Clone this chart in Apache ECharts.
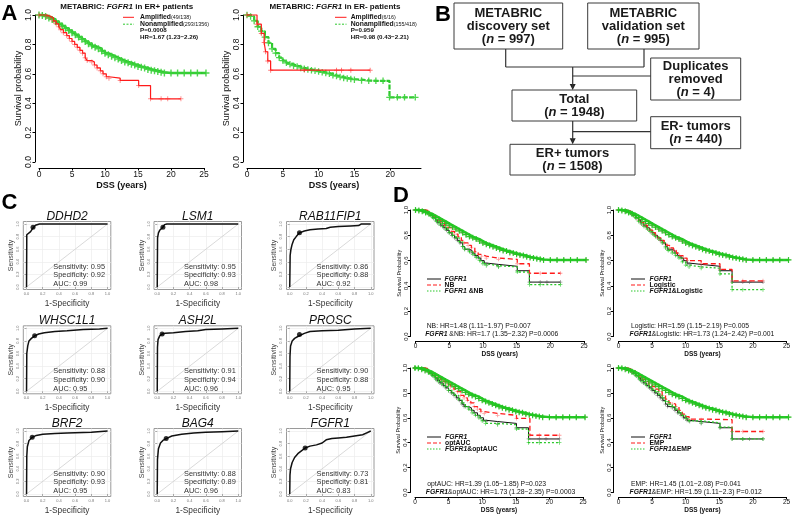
<!DOCTYPE html>
<html><head><meta charset="utf-8">
<script src="https://cdn.jsdelivr.net/npm/echarts@6/dist/echarts.min.js"></script>
<style>html,body{margin:0;padding:0;background:#fff}#c{width:797px;height:516px}</style>
</head><body><div id="c"></div>
<script>
// ================= DATA =================
// Panel A: Kaplan-Meier, [DSS years, survival]
const A1_amp = [[0,1],[1.2,0.99],[1.8,0.98],[2.2,0.96],[2.6,0.94],[3.0,0.92],[3.3,0.90],[3.7,0.88],[4.2,0.86],[4.6,0.84],[5.0,0.82],[5.4,0.80],[5.8,0.78],[6.2,0.76],[6.6,0.74],[7.0,0.71],[7.3,0.69],[8.0,0.68],[8.4,0.66],[8.8,0.64],[9.3,0.62],[9.7,0.60],[10.2,0.58],[10.6,0.57],[12.3,0.555],[15.1,0.52],[16.9,0.43],[18.5,0.43],[19.5,0.43],[21.5,0.43]];
const A1_non = [[0,1],[0.5,0.997],[1,0.99],[1.5,0.98],[2,0.97],[2.5,0.955],[3,0.94],[3.5,0.925],[4,0.91],[4.5,0.895],[5,0.88],[5.5,0.865],[6,0.85],[6.5,0.835],[7,0.82],[7.5,0.805],[8,0.79],[8.5,0.78],[9,0.77],[9.5,0.755],[10,0.74],[10.5,0.73],[11,0.72],[11.5,0.71],[12,0.70],[12.5,0.69],[13,0.68],[13.5,0.675],[14,0.665],[14.5,0.66],[15,0.65],[15.5,0.645],[16,0.64],[16.5,0.63],[17,0.625],[17.5,0.62],[18,0.615],[18.5,0.61],[19,0.605],[20,0.605],[21,0.605],[22,0.605],[23,0.605],[24,0.605],[25.3,0.605]];
const A2_amp = [[0,1],[1.4,0.9375],[2.0,0.875],[2.4,0.8125],[2.6,0.75],[2.9,0.6875],[3.3,0.625],[8,0.625],[12.5,0.625],[13.2,0.625],[14.5,0.625],[17.2,0.625]];
const A2_non = [[0,1],[0.5,0.99],[1.0,0.96],[1.5,0.92],[2.0,0.89],[2.5,0.85],[3.0,0.81],[3.5,0.77],[4.0,0.74],[4.5,0.71],[5,0.69],[5.5,0.675],[6,0.665],[6.5,0.655],[7,0.65],[7.5,0.64],[8,0.635],[8.5,0.63],[9,0.625],[9.5,0.62],[10,0.615],[10.5,0.61],[11,0.605],[11.5,0.6],[12,0.59],[12.5,0.585],[13,0.578],[13.5,0.572],[14,0.568],[14.5,0.564],[15,0.56],[16,0.555],[17,0.552],[18,0.552],[19,0.552],[19.9,0.44],[21,0.44],[22,0.44],[23.5,0.44]];
const A_xTicks = [0,5,10,15,20,25];
const A2_xTicks = [0,5,10,15,20];

// Panel C: ROC curves [1-specificity, sensitivity]
const rocGenes = ['DDHD2','LSM1','RAB11FIP1','WHSC1L1','ASH2L','PROSC','BRF2','BAG4','FGFR1'];
const rocSens = [0.95,0.95,0.86,0.88,0.91,0.90,0.90,0.88,0.73];
const rocSpec = [0.92,0.93,0.88,0.90,0.94,0.88,0.93,0.89,0.81];
const rocAUC  = [0.99,0.98,0.92,0.95,0.96,0.95,0.95,0.96,0.83];
const roc_DDHD2 = [[0,0],[0.003,0.83],[0.02,0.86],[0.05,0.88],[0.07,0.92],[0.08,0.95],[0.11,0.98],[0.16,1.0],[1,1]];
const roc_LSM1 = [[0,0],[0.004,0.78],[0.015,0.86],[0.03,0.9],[0.05,0.93],[0.07,0.95],[0.09,0.99],[0.12,1.0],[1,1]];
const roc_RAB11FIP1 = [[0,0],[0.005,0.5],[0.015,0.6],[0.03,0.68],[0.05,0.75],[0.08,0.8],[0.12,0.86],[0.18,0.89],[0.25,0.91],[0.35,0.92],[0.45,0.93],[0.5,0.95],[0.6,0.96],[0.75,0.97],[0.85,0.975],[0.88,1.0],[1,1]];
const roc_WHSC1L1 = [[0,0],[0.003,0.6],[0.015,0.72],[0.03,0.8],[0.06,0.84],[0.1,0.88],[0.15,0.91],[0.22,0.93],[0.35,0.95],[0.5,0.96],[0.7,0.98],[0.9,0.99],[1,1]];
const roc_ASH2L = [[0,0],[0.003,0.7],[0.01,0.82],[0.03,0.88],[0.06,0.91],[0.1,0.92],[0.2,0.93],[0.35,0.95],[0.5,0.96],[0.6,0.98],[0.8,0.99],[1,1]];
const roc_PROSC = [[0,0],[0.003,0.55],[0.01,0.72],[0.03,0.8],[0.06,0.84],[0.1,0.87],[0.12,0.9],[0.18,0.92],[0.25,0.95],[0.4,0.96],[0.6,0.97],[0.8,0.99],[1,1]];
const roc_BRF2 = [[0,0],[0.003,0.6],[0.01,0.75],[0.03,0.85],[0.05,0.88],[0.07,0.9],[0.12,0.93],[0.2,0.95],[0.35,0.96],[0.5,0.97],[0.8,0.98],[1,1]];
const roc_BAG4 = [[0,0],[0.003,0.55],[0.015,0.72],[0.04,0.81],[0.07,0.85],[0.11,0.88],[0.18,0.92],[0.3,0.95],[0.45,0.97],[0.6,0.98],[0.8,0.99],[1,1]];
const roc_FGFR1 = [[0,0],[0.003,0.3],[0.01,0.4],[0.03,0.5],[0.06,0.58],[0.1,0.64],[0.14,0.68],[0.19,0.73],[0.25,0.76],[0.33,0.78],[0.4,0.81],[0.45,0.86],[0.52,0.88],[0.6,0.89],[0.7,0.9],[0.8,0.92],[0.9,0.94],[0.95,0.97],[1,1]];
const rocCurves = [roc_DDHD2, roc_LSM1, roc_RAB11FIP1, roc_WHSC1L1, roc_ASH2L, roc_PROSC, roc_BRF2, roc_BAG4, roc_FGFR1];
const rocTicks = [0,0.2,0.4,0.6,0.8,1.0];
const rocDiagonal = [[0,0],[1,1]];

// Panel D: KM curves in ER+ cohort
const D_high = A1_non;          // low-risk groups (all methods overlap)
const D_fgfr1_lo = A1_amp;      // FGFR1 high-risk group
const D_nb_lo = [[0,1],[1.5,0.99],[2.2,0.97],[2.8,0.95],[3.3,0.92],[3.8,0.9],[4.3,0.88],[4.8,0.86],[5.3,0.83],[5.8,0.81],[6.3,0.79],[6.8,0.76],[7.2,0.74],[7.8,0.72],[8.3,0.70],[8.8,0.67],[9.3,0.65],[9.8,0.635],[10.5,0.62],[12.3,0.61],[15.1,0.575],[16.9,0.50],[18.5,0.50],[21.5,0.50]];
const D_nbC_lo = [[0,1],[1.2,0.99],[1.8,0.975],[2.3,0.955],[2.7,0.935],[3.1,0.91],[3.5,0.89],[4,0.87],[4.5,0.85],[5,0.82],[5.5,0.80],[6,0.78],[6.5,0.75],[7,0.71],[7.3,0.69],[8,0.67],[8.5,0.65],[9,0.625],[9.5,0.6],[10,0.575],[10.5,0.56],[12.3,0.55],[15.1,0.51],[16.9,0.41],[18.5,0.41],[21.5,0.41]];
const D_log_lo = [[0,1],[1.2,0.99],[1.8,0.98],[2.2,0.96],[2.6,0.94],[3.0,0.92],[3.4,0.9],[3.8,0.88],[4.3,0.86],[4.7,0.84],[5.1,0.82],[5.5,0.8],[5.9,0.78],[6.3,0.76],[6.8,0.74],[7.2,0.72],[7.6,0.70],[8.2,0.68],[8.6,0.66],[9.1,0.64],[9.6,0.62],[10.2,0.6],[12.3,0.575],[15.1,0.53],[16.9,0.44],[18.5,0.44],[21.5,0.44]];
const D_logC_lo = [[0,1],[1.2,0.99],[1.8,0.975],[2.2,0.955],[2.6,0.935],[3.0,0.91],[3.4,0.89],[3.8,0.87],[4.3,0.85],[4.7,0.83],[5.1,0.81],[5.5,0.79],[6,0.77],[6.5,0.74],[7,0.70],[7.4,0.68],[8,0.66],[8.5,0.64],[9,0.62],[9.5,0.59],[10,0.565],[10.5,0.55],[12.3,0.54],[15.1,0.495],[16.9,0.37],[18.5,0.37],[21.5,0.37]];
const D_auc_lo = [[0,1],[1.5,0.99],[2.2,0.97],[2.8,0.95],[3.3,0.93],[3.8,0.91],[4.3,0.89],[4.8,0.87],[5.3,0.85],[5.8,0.83],[6.3,0.81],[6.8,0.78],[7.3,0.76],[7.8,0.74],[8.3,0.72],[8.8,0.69],[9.3,0.67],[9.8,0.65],[10.3,0.635],[12.3,0.62],[15.1,0.595],[17.1,0.46],[18.5,0.46],[21.5,0.46]];
const D_aucC_lo = [[0,1],[1.2,0.99],[1.8,0.975],[2.3,0.955],[2.7,0.935],[3.1,0.91],[3.5,0.89],[4,0.87],[4.5,0.85],[5,0.82],[5.5,0.8],[6,0.78],[6.5,0.75],[7,0.72],[7.5,0.69],[8,0.67],[8.5,0.64],[9,0.62],[9.5,0.6],[10,0.575],[10.5,0.555],[12.3,0.545],[15.1,0.51],[16.9,0.40],[18.5,0.40],[21.5,0.40]];
const D_emp_lo = [[0,1],[1.3,0.99],[2,0.975],[2.5,0.955],[3,0.935],[3.5,0.91],[4,0.89],[4.5,0.87],[5,0.85],[5.5,0.83],[6,0.81],[6.5,0.78],[7,0.75],[7.5,0.72],[8,0.71],[8.5,0.69],[9,0.66],[9.5,0.63],[10,0.61],[10.5,0.59],[12.3,0.585],[16.9,0.49],[18.5,0.49],[21.5,0.49]];
const D_empC_lo = [[0,1],[1.2,0.99],[1.8,0.975],[2.3,0.955],[2.7,0.935],[3.1,0.91],[3.5,0.89],[4,0.87],[4.5,0.85],[5,0.83],[5.5,0.81],[6,0.79],[6.5,0.76],[7,0.73],[7.5,0.71],[8,0.69],[8.5,0.67],[9,0.64],[9.5,0.62],[10,0.595],[10.5,0.575],[12.3,0.56],[15.1,0.525],[16.9,0.43],[18.5,0.43],[21.5,0.43]];
const D_methods = ['NB','Logistic','optAUC','EMP'];
const D_method_lo = [D_nb_lo, D_log_lo, D_auc_lo, D_emp_lo];
const D_combo_lo = [D_nbC_lo, D_logC_lo, D_aucC_lo, D_empC_lo];
const D_stats1 = ['NB: HR=1.48 (1.11\u22121.97) P=0.007','Logistic: HR=1.59 (1.15\u22122.19) P=0.005','optAUC: HR=1.39 (1.05\u22121.85) P=0.023','EMP: HR=1.45 (1.01\u22122.08) P=0.041'];
const D_stats2 = [' &NB: HR=1.7 (1.35\u22122.32) P=0.0006','&Logistic: HR=1.73 (1.24\u22122.42) P=0.001','&optAUC: HR=1.73 (1.28\u22122.35) P=0.0003','&EMP: HR=1.59 (1.11\u22122.3) P=0.012'];
const D_legend3 = [' &NB','&Logistic','&optAUC','&EMP'];
const surv_yTicks = [0,0.2,0.4,0.6,0.8,1.0];

// ================= BUILD =================
const FONT = '"Liberation Sans", Arial, Helvetica, sans-serif';
const RED = '#ff1a1a', GREEN = '#2cc82c';
const PLUS = 'path://M4,0H6V4H10V6H6V10H4V6H0V4H4Z';
const grids = [], xAxes = [], yAxes = [], series = [], G = [];

function rt(size, w, s, c) { return {fontSize:size, fontFamily:FONT, fontWeight:w||'normal', fontStyle:s||'normal', fill:c||'#111'}; }
function txt(x, y, text, size, o) {
  o = o || {};
  const st = {text:text, fontSize:size, fontFamily:FONT, fontWeight:o.w||'normal', fontStyle:o.s||'normal',
    fill:o.c||'#111', align:o.a||'left', verticalAlign:o.v||'middle', textAlign:o.a||'left', textVerticalAlign:o.v||'middle'};
  if (o.lh) st.lineHeight = o.lh;
  if (o.rich) st.rich = o.rich;
  return {type:'text', x:x, y:y, silent:true, z:100, style:st};
}
function seg(x1,y1,x2,y2,color,w,dash) {
  const st = {stroke:color, lineWidth:w};
  if (dash) st.lineDash = dash;
  return {type:'line', silent:true, z:100, shape:{x1:x1,y1:y1,x2:x2,y2:y2}, style:st};
}

function kmGrid(left, top, width, height, xmax, xt, o) {
  grids.push({left:left, top:top, width:width, height:height, outerBoundsMode:'none', containLabel:false});
  const gi = grids.length - 1;
  xAxes.push({gridIndex:gi, type:'value', min:0, max:xmax, offset:o.xoff,
    axisLine:{show:true, onZero:false, lineStyle:{color:'#000', width:1}},
    axisTick:{show:true, length:2.5, customValues:xt, lineStyle:{color:'#000', width:1}},
    axisLabel:{customValues:xt, fontSize:o.xfs, color:'#111', margin:o.xm, fontFamily:FONT},
    splitLine:{show:false}, name:'DSS (years)', nameLocation:'middle', nameGap:o.xng,
    nameTextStyle:{fontSize:o.xnfs, fontWeight:'bold', fontFamily:FONT, color:'#111'}});
  yAxes.push({gridIndex:gi, type:'value', min:0, max:1, interval:0.2, offset:o.yoff,
    axisLine:{show:true, onZero:false, lineStyle:{color:'#000', width:1}},
    axisTick:{show:true, length:2.5, lineStyle:{color:'#000', width:1}},
    axisLabel:{rotate:90, fontSize:o.yfs, color:'#111', margin:o.ym, fontFamily:FONT, formatter:function(v){return v.toFixed(1);}},
    splitLine:{show:false}, name:o.yname, nameLocation:'middle', nameGap:o.yng,
    nameTextStyle:{fontSize:o.ynfs, fontFamily:FONT, color:'#111'}});
  return gi;
}
function km(gi, data, color, width, dash, symColor, symSize, z) {
  series.push({type:'line', xAxisIndex:gi, yAxisIndex:gi, data:data, step:'end',
    showSymbol:symSize>0, symbol:symSize>0?PLUS:'none', symbolSize:symSize,
    lineStyle:{color:color, width:width, type:dash}, itemStyle:{color:symColor},
    clip:false, silent:true, animation:false, z:z});
}

// ---- Panel A ----
const aOpt = {xoff:6, xfs:8.5, xm:2, xng:13, xnfs:9, yoff:4, yfs:8.5, ym:2, yname:'Survival probability', yng:8, ynfs:9};
const gA1 = kmGrid(39, 15, 165, 147, 25, A_xTicks, aOpt);
const gA2 = kmGrid(247, 15, 174, 147, 24.3, A2_xTicks, aOpt);
km(gA1, A1_non, GREEN, 2.6, 'solid', 'rgba(60,210,60,0.9)', 7, 3);
km(gA1, A1_amp, RED, 1.2, 'solid', 'rgba(255,40,40,0.5)', 5, 4);
km(gA2, A2_non, GREEN, 2.2, [5,1.5], 'rgba(60,210,60,0.9)', 6.5, 3);
km(gA2, A2_amp, RED, 1.2, 'solid', 'rgba(255,40,40,0.6)', 5, 4);

G.push(txt(126.7, 7, '{b|METABRIC: }{i|FGFR1}{b| in ER+ patients}', 8, {a:'center', rich:{b:rt(8,'bold'), i:rt(8,'bold','italic')}}));
G.push(txt(335, 7, '{b|METABRIC: }{i|FGFR1}{b| in ER- patients}', 8, {a:'center', rich:{b:rt(8,'bold'), i:rt(8,'bold','italic')}}));
const legA = [[123,134,140,'49/138','293/1356','P=0.0008','HR=1.67 (1.23\u22122.26)'],[335,346.5,350.7,'6/16','155/418','P=0.959','HR=0.98 (0.43\u22122.21)']];
legA.forEach(function(L){
  G.push(seg(L[0],17.3,L[1],17.3,RED,1));
  G.push(seg(L[0],24.2,L[1],24.2,GREEN,1,[2,1.5]));
  G.push(txt(L[2],17.3,'{b|Amplified}{s|('+L[3]+')}',7,{rich:{b:rt(6.8,'bold'),s:rt(5.4)}}));
  G.push(txt(L[2],24.2,'{b|Nonamplified}{s|('+L[4]+')}',7,{rich:{b:rt(6.8,'bold'),s:rt(5.4)}}));
  G.push(txt(L[2],30.2,L[5],6.2,{w:'bold'}));
  G.push(txt(L[2],37.3,L[6],6.2,{w:'bold'}));
});

// ---- Panel C (ROC) ----
const cLeft = [23.3, 154, 286.5], cTop = [221.5, 325.8, 428.5], cW = 87.5, cH = 68;
rocGenes.forEach(function(gene, k){
  const r = Math.floor(k/3), c = k%3;
  grids.push({left:cLeft[c], top:cTop[r], width:cW, height:cH, show:true, borderColor:'#9a9a9a', borderWidth:1, outerBoundsMode:'none', containLabel:false});
  const gi = grids.length - 1;
  const common = {gridIndex:gi, type:'value', min:-0.04, max:1.04,
    axisLine:{show:false}, axisTick:{show:true, customValues:rocTicks, length:2, lineStyle:{color:'#777', width:0.6}},
    splitLine:{show:true, lineStyle:{color:'#ececec', width:0.7}}};
  xAxes.push(Object.assign({}, common, {axisLabel:{customValues:rocTicks, fontSize:4, color:'#777', margin:2.5, fontFamily:FONT, formatter:function(v){return v.toFixed(1);}},
    name:'1-Specificity', nameLocation:'middle', nameGap:10, nameTextStyle:{fontSize:8.3, color:'#333', fontFamily:FONT}}));
  yAxes.push(Object.assign({}, common, {axisLabel:{customValues:rocTicks, rotate:90, fontSize:4, color:'#777', margin:3.5, fontFamily:FONT, formatter:function(v){return v.toFixed(1);}},
    name:'Sensitivity', nameLocation:'middle', nameGap:8.5, nameTextStyle:{fontSize:7, color:'#444', fontFamily:FONT}}));
  series.push({type:'line', xAxisIndex:gi, yAxisIndex:gi, data:rocDiagonal, symbol:'none', lineStyle:{color:'#cfcfcf', width:0.8}, silent:true, animation:false, z:2});
  series.push({type:'line', xAxisIndex:gi, yAxisIndex:gi, data:rocCurves[k], symbol:'none', lineStyle:{color:'#111', width:1.5}, silent:true, animation:false, z:3});
  series.push({type:'scatter', xAxisIndex:gi, yAxisIndex:gi, data:[[1-rocSpec[k], rocSens[k]]], symbolSize:5, itemStyle:{color:'#000'}, silent:true, animation:false, z:4});
  const dataL = cLeft[c] + cW*0.04/1.08, dataW = cW/1.08;
  const y0 = cTop[r] + cH - cH*0.04/1.08;
  G.push(txt(cLeft[c]+cW/2, cTop[r]-5, gene, 12, {a:'center', s:'italic'}));
  const tx = dataL + dataW*0.33;
  G.push(txt(tx, y0-20.5, 'Sensitivity: '+rocSens[k].toFixed(2), 7.4, {c:'#333'}));
  G.push(txt(tx, y0-11.6, 'Specificity: '+rocSpec[k].toFixed(2), 7.4, {c:'#333'}));
  G.push(txt(tx, y0-2.8, 'AUC: '+rocAUC[k].toFixed(2), 7.4, {c:'#333'}));
});

// ---- Panel D ----
const dOpt = {xoff:4.5, xfs:6.5, xm:1.5, xng:9.5, xnfs:6.5, yoff:5, yfs:6, ym:1.5, yname:'Survival Probability', yng:7.5, ynfs:5.5};
const dPos = [[415.5,210,168.5,126.5],[618.5,210,168,126.5],[415,368,168,124.5],[618.5,368,168,124.5]];
const dLeg = [[427,441,444.5,426.7],[631,645,649.5,631],[427,441,445,427.3],[631,645,649.5,631]];
D_methods.forEach(function(m, k){
  const p = dPos[k];
  const gi = kmGrid(p[0], p[1], p[2], p[3], 25, A_xTicks, dOpt);
  km(gi, D_high, '#111', 1, 'solid', 'rgba(60,60,60,0.5)', 4, 3);
  km(gi, D_fgfr1_lo, '#111', 1, 'solid', 'rgba(60,60,60,0.5)', 4, 3);
  km(gi, D_high, RED, 1.3, [5,3], 'rgba(255,60,60,0.5)', 4, 4);
  km(gi, D_method_lo[k], RED, 1.3, [5,3], 'rgba(255,60,60,0.5)', 4, 4);
  km(gi, D_high, GREEN, 2.4, 'solid', 'rgba(30,200,30,0.9)', 6, 5);
  km(gi, D_combo_lo[k], GREEN, 1.3, [2,2], 'rgba(30,200,30,0.7)', 4, 5);
  const L = dLeg[k], ly = p[1] + 69;
  G.push(seg(L[0], ly, L[1], ly, '#111', 1));
  G.push(seg(L[0], ly+6, L[1], ly+6, RED, 1.2, [4,2]));
  G.push(seg(L[0], ly+12, L[1], ly+12, GREEN, 1.2, [1.5,1.5]));
  G.push(txt(L[2], ly, 'FGFR1', 6.8, {w:'bold', s:'italic'}));
  G.push(txt(L[2], ly+6, m, 6.8, {w:'bold'}));
  G.push(txt(L[2], ly+12, '{i|FGFR1}{b|'+D_legend3[k]+'}', 6.8, {rich:{i:rt(6.8,'bold','italic'), b:rt(6.8,'bold')}}));
  G.push(txt(L[3], p[1]+116.5, D_stats1[k], 6.8, {c:'#111'}));
  G.push(txt(L[3]-1.5, p[1]+124.2, '{i|FGFR1}{b|'+D_stats2[k]+'}', 6.8, {rich:{i:rt(6.8,'bold','italic'), b:rt(6.8,'normal')}}));
});

// ---- Panel B (flowchart) ----
function box(x1, y1, x2, y2, label) {
  G.push({type:'rect', silent:true, z:90, shape:{x:x1, y:y1, width:x2-x1, height:y2-y1}, style:{fill:'#fff', stroke:'#3a3a3a', lineWidth:1}});
  G.push(txt((x1+x2)/2, (y1+y2)/2+0.5, label, 13, {a:'center', w:'bold', lh:12.6, c:'#1a1a1a', rich:{i:rt(13,'bold','italic','#1a1a1a'), t:Object.assign(rt(13,'bold','normal','#1a1a1a'),{lineHeight:12.6})}}));
}
function arrowDown(x, y) {
  G.push({type:'polygon', silent:true, z:95, shape:{points:[[x-3,y-6],[x+3,y-6],[x,y]]}, style:{fill:'#222'}});
}
const LC = '#333';
G.push(seg(505.7,49,505.7,67,LC,1.2));
G.push(seg(505.7,67,644,67,LC,1.2));
G.push(seg(644,49,644,67,LC,1.2));
G.push(seg(572.7,67,572.7,88,LC,1.2)); arrowDown(572.7,90);
G.push(seg(572.7,76,650.7,76,LC,1.2));
G.push(seg(572.7,121,572.7,142,LC,1.2)); arrowDown(572.7,144.3);
G.push(seg(572.7,131.7,650.7,131.7,LC,1.2));
box(454, 3, 562.7, 49, '{t|METABRIC}\n{t|discovery set}\n{t|(}{i|n}{t| = 997)}');
box(587.7, 3, 699, 49, '{t|METABRIC}\n{t|validation set}\n{t|(}{i|n}{t| = 995)}');
box(650.7, 58, 740.7, 100, '{t|Duplicates}\n{t|removed}\n{t|(}{i|n}{t| = 4)}');
box(512, 90, 636.7, 121, '{t|Total}\n{t|(}{i|n}{t| = 1948)}');
box(650.7, 116.7, 740.7, 148.7, '{t|ER- tumors}\n{t|(}{i|n}{t| = 440)}');
box(510, 144.3, 635, 175, '{t|ER+ tumors}\n{t|(}{i|n}{t| = 1508)}');

// ---- Panel letters ----
G.push(txt(1.5, 13.5, 'A', 22, {w:'bold', c:'#000'}));
G.push(txt(435, 14.5, 'B', 22, {w:'bold', c:'#000'}));
G.push(txt(1.5, 203, 'C', 22, {w:'bold', c:'#000'}));
G.push(txt(393, 195.5, 'D', 22, {w:'bold', c:'#000'}));

const chart = echarts.init(document.getElementById('c'), null, {renderer:'canvas', width:797, height:516});
chart.setOption({animation:false, backgroundColor:'#fff', grid:grids, xAxis:xAxes, yAxis:yAxes, series:series, graphic:{elements:G}});
</script></body></html>
